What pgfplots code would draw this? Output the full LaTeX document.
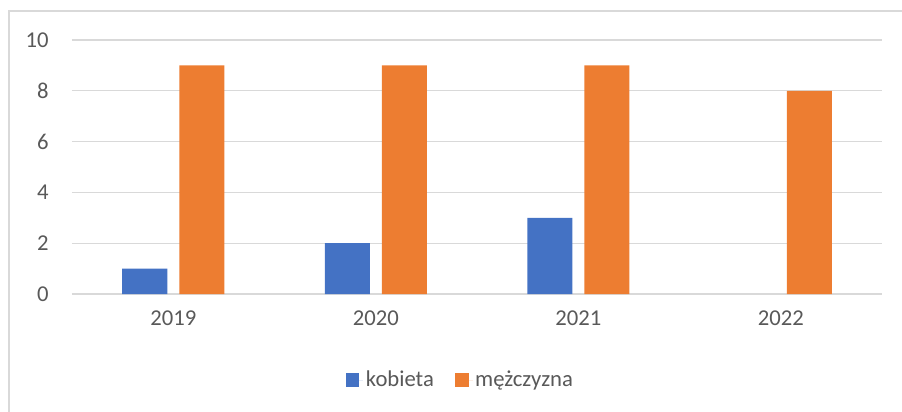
\documentclass[border=0pt]{standalone}
\usepackage{fontspec}
\setmainfont{Carlito}
\usepackage{pgfplots}
\pgfplotsset{compat=1.18}

\definecolor{kob}{HTML}{4472C4}
\definecolor{mez}{HTML}{ED7D31}
\definecolor{gridc}{HTML}{D9D9D9}
\definecolor{txt}{HTML}{595959}

\begin{document}
\begin{tikzpicture}
  \path[use as bounding box] (0,0) rectangle (676.5pt,308.25pt);
  \draw[gridc, line width=0.9pt] (6.75pt,-5pt) -- (6.75pt,300pt) -- (680pt,300pt);
  \begin{axis}[
    at={(54pt,87.75pt)}, anchor=south west,
    scale only axis,
    width=607.5pt, height=190.5pt,
    ybar=9pt, bar width=33.75pt,
    xmin=-0.5, xmax=3.5,
    ymin=0, ymax=10,
    xtick={0,1,2,3},
    xticklabels={2019,2020,2021,2022},
    ytick={0,2,4,6,8,10},
    axis x line*=bottom,
    axis y line*=left,
    y axis line style={draw=none},
    x axis line style={gridc, line width=0.9pt, -},
    major tick length=0pt,
    ymajorgrids,
    grid style={gridc, line width=0.9pt},
    tick label style={font=\fontsize{17}{20}\selectfont, text=txt},
    /pgf/number format/assume math mode=true,
    yticklabel style={xshift=-14pt},
    xticklabel style={yshift=-9pt},
    legend style={at={(0.48,-0.339)}, anchor=center, draw=none,
      legend columns=-1, font=\fontsize{17}{20}\selectfont, text=txt,
      /tikz/every even column/.append style={column sep=14pt}},
    legend image code/.code={\path (0pt,0pt) rectangle (13pt,0pt);
      \fill[#1] (0pt,-5pt) rectangle (10pt,5pt);},
  ]
    \addplot[fill=kob, draw=none] coordinates {(0,1) (1,2) (2,3)};
    \addplot[fill=mez, draw=none] coordinates {(0,9) (1,9) (2,9) (3,8)};
    \legend{kobieta, mężczyzna}
  \end{axis}
\end{tikzpicture}
\end{document}
